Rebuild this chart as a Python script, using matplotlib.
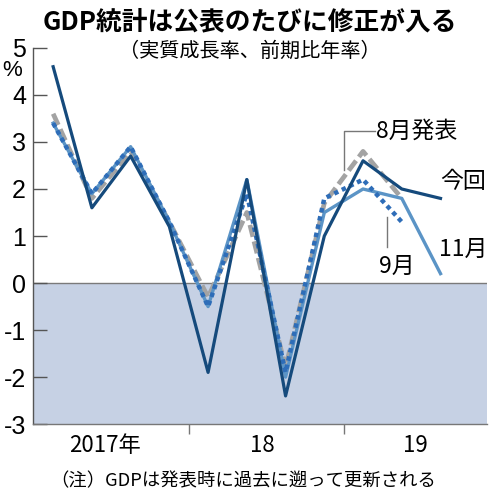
import numpy as np
import matplotlib
matplotlib.use("Agg")
import matplotlib.pyplot as plt

plt.rcParams['font.family'] = ['Noto Sans CJK JP', 'DejaVu Sans']

# 2017Q1 .. 2019Q3 (前期比年率, %)
quarters = np.arange(11)
latest = [4.6, 1.6, 2.7, 1.2, -1.9, 2.2, -2.4, 1.0, 2.6, 2.0, 1.8]      # 今回
nov = [3.4, 1.9, 2.9, 1.3, -0.5, 2.2, -2.0, 1.5, 2.0, 1.8, 0.2]         # 11月
sep = [3.4, 1.9, 2.9, 1.3, -0.5, 1.9, -1.9, 1.8, 2.2, 1.3]              # 9月
aug = [3.6, 1.8, 2.8, 1.3, -0.3, 1.5, -1.8, 1.7, 2.8, 1.8]              # 8月発表

year_labels = ['2017年', '18', '19']
year_label_pos = [1.35, 5.4, 9.35]
year_breaks = [3.5, 7.5]
yticks = [-3, -2, -1, 0, 1, 2, 3, 4, 5]

NAVY = '#154a7c'
LIGHT = '#5b94c6'
DOT = '#2e6db8'
GRAY = '#a3a3a3'
NUMFONT = ['Liberation Sans Narrow', 'Liberation Sans', 'DejaVu Sans']

fig = plt.figure(figsize=(5.0, 4.99), dpi=100)
ax = fig.add_axes([0.066, 0.150, 0.908, 0.754])
ax.set_xlim(-0.52, 11.2)
ax.set_ylim(-3, 5)

# negative area shading
ax.axhspan(-3, 0, color='#c6d1e4', zorder=0, lw=0)
ax.axhline(0, color='#7a7a7a', lw=1.0, zorder=1)

ax.plot(quarters[:len(aug)], aug, color=GRAY, lw=3.4, dashes=(2.6, 1.0), zorder=2)
ax.plot(quarters[:len(nov)], nov, color=LIGHT, lw=2.4, zorder=3)
ax.plot(quarters[:len(sep)], sep, color=DOT, lw=3.2, dashes=(1.0, 0.9), zorder=4)
ax.plot(quarters[:len(latest)], latest, color=NAVY, lw=2.3, zorder=5)

for s in ['top', 'right']:
    ax.spines[s].set_visible(False)
ax.spines['left'].set_color('#555555')
ax.spines['bottom'].set_color('#777777')
ax.spines['left'].set_linewidth(1.0)
ax.spines['bottom'].set_linewidth(1.0)

ax.set_yticks(yticks)
ax.set_yticklabels([str(v) for v in yticks], fontsize=18, family=NUMFONT)
ax.tick_params(axis='y', direction='in', length=10, width=1.0, color='#555555', pad=5)

ax.set_xticks(year_breaks)
ax.set_xticklabels([])
ax.tick_params(axis='x', which='major', direction='out', length=7, width=1.0, color='#777777')
ax.set_xticks(year_label_pos, minor=True)
ax.set_xticklabels(year_labels, minor=True, fontsize=16)
ax.tick_params(axis='x', which='minor', length=0, pad=7)

ax.text(-0.046, 4.53, '%', transform=ax.get_yaxis_transform(), fontsize=16,
        ha='center', va='center', family=NUMFONT)

# annotations
ax.plot([7.52, 7.52, 8.3], [2.4, 3.24, 3.24], color='#777777', lw=1.0, zorder=6)
ax.text(8.33, 3.22, '8月発表', fontsize=16.5, va='center', ha='left')
ax.text(10.0, 2.16, '今回', fontsize=16.5, va='center', ha='left')
ax.text(9.95, 0.72, '11月', fontsize=16.5, va='center', ha='left')
ax.plot([8.63, 8.63], [1.4, 0.77], color='#777777', lw=1.0, zorder=6)
ax.text(8.88, 0.35, '9月', fontsize=16.5, va='center', ha='center')

fig.text(0.5, 0.957, 'GDP統計は公表のたびに修正が入る', fontsize=18.5, fontweight='bold',
         ha='center', va='center')
fig.text(0.5, 0.897, '（実質成長率、前期比年率）', fontsize=14.5, ha='center', va='center')
fig.text(0.487, 0.036, '（注）GDPは発表時に過去に遡って更新される', fontsize=13.2,
         ha='center', va='center')

fig.savefig('out.png', dpi=100)
